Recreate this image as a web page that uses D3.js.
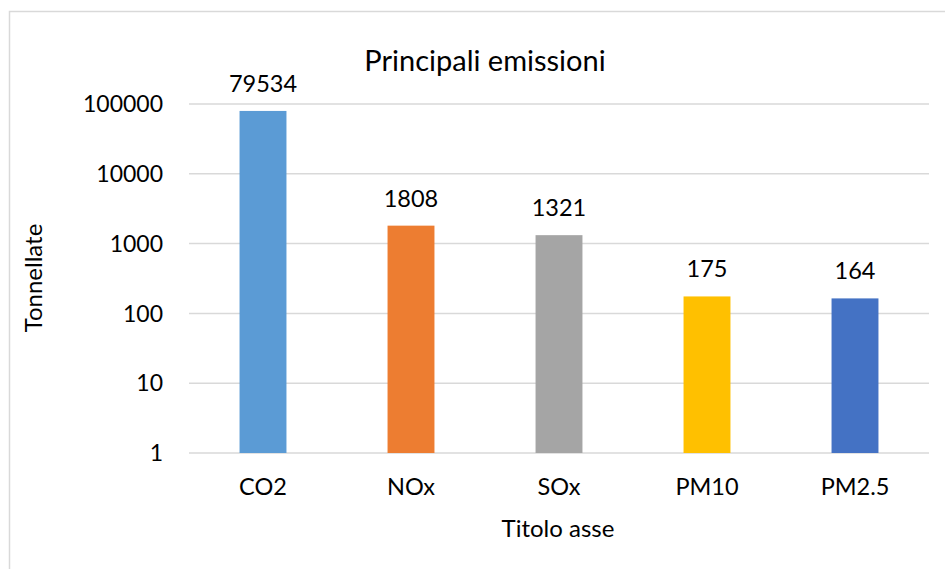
<!DOCTYPE html>
<html>
<head>
<meta charset="utf-8">
<script src="https://cdn.jsdelivr.net/npm/d3@7"></script>
<style>
  body { margin: 0; background: #fff; }
  svg text { font-family: Lato, "Open Sans", sans-serif; fill: #000; }
</style>
</head>
<body>
<svg id="chart" width="945" height="569"></svg>
<script>
const categories = ["CO2", "NOx", "SOx", "PM10", "PM2.5"]
const values = [79534, 1808, 1321, 175, 164]
const barColors = ["#5B9BD5", "#ED7D31", "#A5A5A5", "#FFC000", "#4472C4"]
const yTicks = [1, 10, 100, 1000, 10000, 100000]

const svg = d3.select("#chart")

// outer chart frame (runs off the right/bottom edge)
svg.append("rect")
  .attr("x", 9.5).attr("y", 11.5)
  .attr("width", 960).attr("height", 600)
  .attr("fill", "none")
  .attr("stroke", "#D9D9D9")
  .attr("stroke-width", 1.5)

const x = d3.scaleBand()
  .domain(categories)
  .range([189, 929])
  .paddingInner(0.683)
  .paddingOuter(0.3415)

const y = d3.scaleLog()
  .domain([1, 100000])
  .range([453, 104])

// gridlines
svg.append("g")
  .selectAll("line")
  .data(yTicks)
  .join("line")
  .attr("x1", 189).attr("x2", 929)
  .attr("y1", d => y(d)).attr("y2", d => y(d))
  .attr("stroke", "#D9D9D9")
  .attr("stroke-width", 1.5)

// y tick labels
svg.append("g")
  .selectAll("text")
  .data(yTicks)
  .join("text")
  .attr("x", 163)
  .attr("y", d => y(d))
  .attr("dy", "0.36em")
  .attr("text-anchor", "end")
  .style("font-size", "23px")
  .text(d => d)

// bars
svg.append("g")
  .selectAll("rect")
  .data(values)
  .join("rect")
  .attr("x", (d, i) => x(categories[i]))
  .attr("width", x.bandwidth())
  .attr("y", d => y(d))
  .attr("height", d => y(1) - y(d))
  .attr("fill", (d, i) => barColors[i])

// value labels
svg.append("g")
  .selectAll("text")
  .data(values)
  .join("text")
  .attr("x", (d, i) => x(categories[i]) + x.bandwidth() / 2)
  .attr("y", d => y(d) - 19)
  .attr("text-anchor", "middle")
  .style("font-size", "23.5px")
  .text(d => d)

// category labels
svg.append("g")
  .selectAll("text")
  .data(categories)
  .join("text")
  .attr("x", d => x(d) + x.bandwidth() / 2)
  .attr("y", 495)
  .attr("text-anchor", "middle")
  .style("font-size", "23.5px")
  .text(d => d)

// title
svg.append("text")
  .attr("x", 485).attr("y", 71)
  .attr("text-anchor", "middle")
  .style("font-size", "29px")
  .text("Principali emissioni")

// axis titles
svg.append("text")
  .attr("x", 558).attr("y", 537)
  .attr("text-anchor", "middle")
  .style("font-size", "24px")
  .text("Titolo asse")

svg.append("text")
  .attr("transform", "translate(42,278) rotate(-90)")
  .attr("text-anchor", "middle")
  .style("font-size", "24px")
  .text("Tonnellate")
</script>
</body>
</html>
